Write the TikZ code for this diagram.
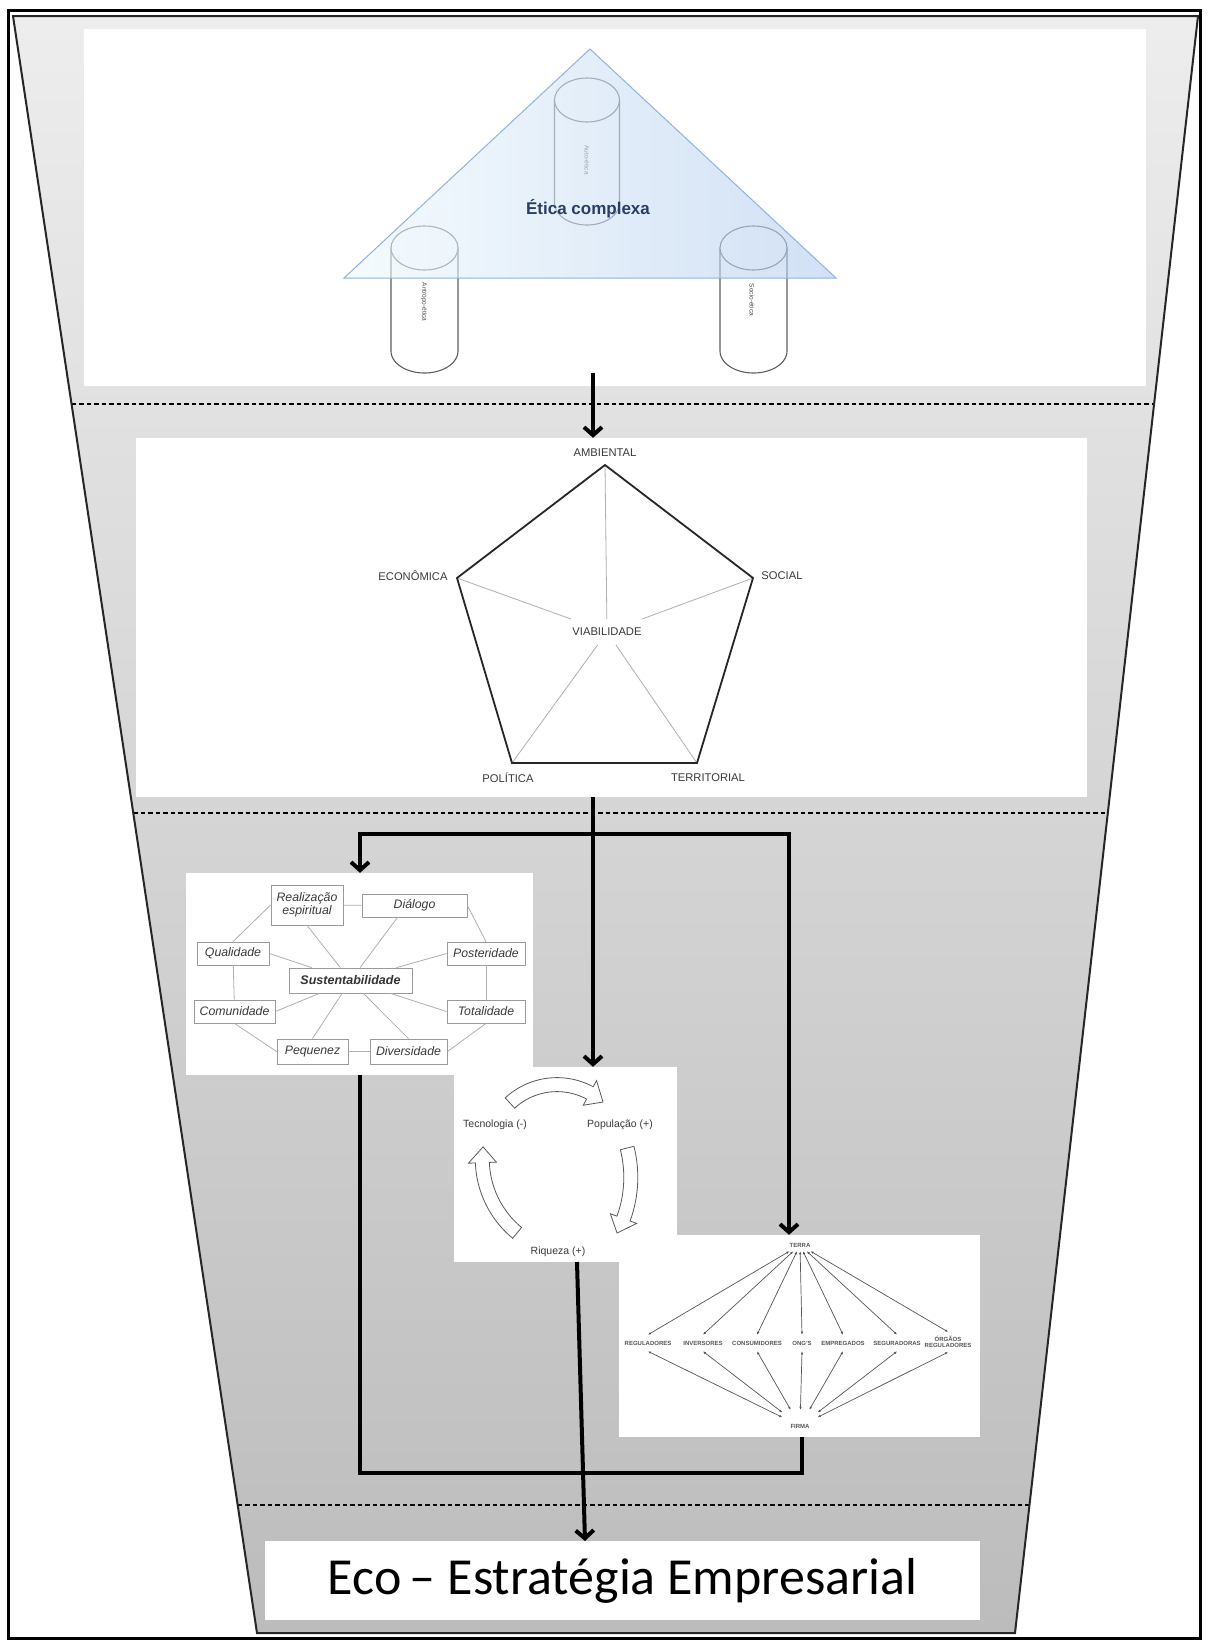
\documentclass[tikz,border=0pt]{standalone}
\usepackage{fontspec}
\setmainfont{Liberation Sans}
\newfontfamily\ecofont{Carlito}
\usetikzlibrary{arrows.meta,calc}

\definecolor{triedge}{HTML}{8FB3DE}
\definecolor{trileft}{HTML}{EEF9FD}
\definecolor{triright}{HTML}{B4CDEF}
\definecolor{navytext}{HTML}{2B3D66}
\definecolor{cylline}{HTML}{5E5E5E}
\definecolor{labelgray}{HTML}{3A3A3A}
\definecolor{spoke}{HTML}{AFAFAF}
\definecolor{boxline}{HTML}{9A9A9A}
\definecolor{netline}{HTML}{555555}
\definecolor{funtop}{HTML}{EDEDED}
\definecolor{funbot}{HTML}{BCBCBC}

% cylinder: centre x, top-ellipse y, bottom-ellipse y, half width, vertical radius
\newcommand{\drawcyl}[5]{%
  \filldraw[cylbody] (#1-#4,#2) -- (#1-#4,#3)
    -- plot[domain=180:360,samples=40] ({#1+#4*cos(\x)},{#3-#5*sin(\x)})
    -- (#1+#4,#2) -- cycle;
  \filldraw[cylbody] (#1,#2) ellipse[x radius=#4, y radius=#5];
}

% curved block arrow: centre x, centre y, radius, tail angle, head-base angle, tip angle
\newcommand{\cyclearrow}[6]{%
  \filldraw[cyclearr] plot[domain=#4:#5,samples=30] ({#1+(#3+7)*cos(\x)},{#2+(#3+7)*sin(\x)})
    -- ({#1+(#3+14)*cos(#5)},{#2+(#3+14)*sin(#5)})
    -- ({#1+#3*cos(#6)},{#2+#3*sin(#6)})
    -- ({#1+(#3-14)*cos(#5)},{#2+(#3-14)*sin(#5)})
    -- plot[domain=#5:#4,samples=30] ({#1+(#3-7)*cos(\x)},{#2+(#3-7)*sin(\x)})
    -- cycle;
}

\begin{document}
\begin{tikzpicture}[x=1pt,y=-1pt,
  whitebox/.style={fill=white, draw=none, inner sep=0pt},
  flow/.style={line width=4pt, black},
  flowtip/.style={arrows={-Straight Barb[length=8pt,width=18pt]}},
  divider/.style={black, line width=1.4pt, dash pattern=on 4.5pt off 3pt},
  cylbody/.style={draw=cylline, fill=white, line width=1.1pt},
  cyllabel/.style={font=\fontsize{6.5}{7}\selectfont, text=black!70, inner sep=0pt},
  ptlabel/.style={font=\fontsize{11.2}{12}\selectfont, text=labelgray, inner sep=1pt},
  sbox/.style={draw=boxline, fill=white, line width=0.8pt, inner sep=0pt, align=center,
    text=labelgray, font=\itshape\fontsize{12.3}{13}\selectfont},
  sline/.style={draw=spoke, line width=0.8pt},
  cyclearr/.style={draw=gray!70!black, fill=white, line width=0.8pt},
  cyctext/.style={font=\fontsize{10.5}{12}\selectfont, text=labelgray, inner sep=1pt},
  netlabel/.style={font=\bfseries\fontsize{6}{6.5}\selectfont, text=netline,
    inner xsep=1pt, inner ysep=6pt, align=center},
  netarr/.style={draw=netline, line width=0.7pt,
    arrows={Latex[length=3pt,width=2.5pt]-Latex[length=3pt,width=2.5pt]}},
]
\useasboundingbox (0,0) rectangle (1208,1644);
\fill[white] (0,0) rectangle (1208,1644);

% outer frame
\draw[line width=3pt] (8,10) rectangle (1200,1638);

% funnel
\coordinate (ftl) at (13,16);
\coordinate (ftr) at (1198,16);
\coordinate (fbr) at (1015,1633);
\coordinate (fbl) at (257,1633);
\shade[top color=funtop, bottom color=funbot] (ftl) -- (ftr) -- (fbr) -- (fbl) -- cycle;

% dashed dividers between the stages
\draw[divider] ($(ftl)!0.2400!(fbl)$) -- ($(ftr)!0.2400!(fbr)$);
\draw[divider] ($(ftl)!0.4929!(fbl)$) -- ($(ftr)!0.4929!(fbr)$);
\draw[divider] ($(ftl)!0.9208!(fbl)$) -- ($(ftr)!0.9208!(fbr)$);

\draw[line width=2pt, black!85] (ftl) -- (ftr) -- (fbr) -- (fbl) -- cycle;

% ---------- stage 1: complex ethics ----------
\node[whitebox, minimum width=1062pt, minimum height=357pt] (box1) at (615,207.5) {};

\drawcyl{587}{100}{203}{32.5}{22}
\drawcyl{424.5}{248}{351}{33.5}{22}
\drawcyl{753.5}{248}{351}{33.5}{22}
\node[cyllabel, rotate=-90] (lauto) at (587,160) {Auto-ética};
\node[cyllabel, rotate=-90] (lantr) at (424,302) {Antropo-ética};
\node[cyllabel, rotate=-90] (lsoci) at (752,300) {Socio-ética};

\coordinate (tA) at (590,49);
\coordinate (tL) at (344,278);
\coordinate (tR) at (836,278);
\shade[left color=trileft, right color=triright, fill opacity=0.6] (tA) -- (tR) -- (tL) -- cycle;
\draw[triedge, line width=1pt] (tA) -- (tR) -- (tL) -- cycle;
\node[font=\bfseries\fontsize{17}{20}\selectfont, text=navytext] (etica) at (588,209) {Ética complexa};

% ---------- stage 2: viability pentagon ----------
\node[whitebox, minimum width=951pt, minimum height=359pt] (box2) at (611.5,617.5) {};

\coordinate (pA) at (605,465);
\coordinate (pS) at (753,578);
\coordinate (pT) at (697,763);
\coordinate (pP) at (512,763);
\coordinate (pE) at (457,578);
\node[ptlabel, inner xsep=8pt, inner ysep=9pt] (viab) at (607,632) {VIABILIDADE};
\draw[sline] (pA) -- (viab);
\draw[sline] (pS) -- (viab);
\draw[sline] (pT) -- (viab);
\draw[sline] (pP) -- (viab);
\draw[sline] (pE) -- (viab);
\draw[line width=1.8pt, black!85] (pA) -- (pS) -- (pT) -- (pP) -- (pE) -- cycle;
\node[ptlabel] (lamb) at (605,453) {AMBIENTAL};
\node[ptlabel] (lsoc) at (782,576) {SOCIAL};
\node[ptlabel] (leco) at (413,576) {ECONÔMICA};
\node[ptlabel] (lpol) at (508,778) {POLÍTICA};
\node[ptlabel] (lter) at (708,778) {TERRITORIAL};

% ---------- stage 3a: sustainability web ----------
\node[whitebox, minimum width=347pt, minimum height=202pt] (sustbox) at (359.5,974) {};

\node[sbox, minimum width=72pt, minimum height=40pt] (real) at (307,905) {Realização\\espiritual};
\node[sbox, minimum width=105pt, minimum height=23pt] (dial) at (414.5,905.5) {Diálogo};
\node[sbox, minimum width=72pt, minimum height=23pt] (qual) at (233,953.5) {Qualidade};
\node[sbox, minimum width=78pt, minimum height=23pt] (post) at (486,953.5) {Posteridade};
\node[sbox, minimum width=81pt, minimum height=23pt] (comu) at (234.5,1011.5) {Comunidade};
\node[sbox, minimum width=78pt, minimum height=23pt] (tota) at (486,1011.5) {Totalidade};
\node[sbox, minimum width=71pt, minimum height=25pt] (pequ) at (312.5,1051.5) {Pequenez};
\node[sbox, minimum width=77pt, minimum height=25pt] (dive) at (408.5,1051.5) {Diversidade};
\node[sbox, minimum width=123pt, minimum height=25pt, font=\bfseries\itshape\fontsize{12.5}{13}\selectfont, text=black!80] (sust) at (350.5,980.5) {Sustentabilidade};

\draw[sline] (real) -- (dial);
\draw[sline] (real.west) -- (qual.north);
\draw[sline] (dial.east) -- (post.north);
\draw[sline] (qual) -- (comu);
\draw[sline] (post) -- (tota);
\draw[sline] (comu.south) -- (pequ.west);
\draw[sline] (dive.east) -- (tota.south);
\draw[sline] (pequ) -- (dive);
\draw[sline] (real.south) -- (sust);
\draw[sline] (sust) -- (dive.north);
\draw[sline] ([xshift=-17pt]dial.south) -- (sust);
\draw[sline] (sust) -- (pequ.north);
\draw[sline] (qual.east) -- (sust);
\draw[sline] (comu.east) -- (sust);
\draw[sline] (post.west) -- (sust);
\draw[sline] (tota.west) -- (sust);

% ---------- stage 3b: population, wealth, technology cycle ----------
\node[whitebox, minimum width=223pt, minimum height=195pt] (cyclebox) at (565.5,1164.5) {};
\node[cyctext] (tecn) at (495,1125) {Tecnologia (-)};
\node[cyctext] (popu) at (620,1125) {População (+)};
\node[cyctext] (riqu) at (558,1252) {Riqueza (+)};
\cyclearrow{557}{1154}{69.4}{-132.7}{-61.7}{-48.5}
\cyclearrow{511}{1177.4}{119.8}{-14.2}{20.1}{27.7}
\cyclearrow{578}{1159}{95.7}{129.5}{177.8}{187.3}

% ---------- stage 3c: stakeholders between earth and firm ----------
\node[whitebox, minimum width=361pt, minimum height=202pt] (netbox) at (799.5,1336) {};
\node[netlabel, inner xsep=7pt, inner ysep=4pt] (terra) at (800,1245) {TERRA};
\node[netlabel, inner xsep=8pt, inner ysep=14pt] (firma) at (800,1426) {FIRMA};
\node[netlabel] (reg) at (648,1343) {REGULADORES};
\node[netlabel] (inv) at (703,1343) {INVERSORES};
\node[netlabel] (cons) at (757,1343) {CONSUMIDORES};
\node[netlabel] (ong) at (802,1343) {ONG'S};
\node[netlabel] (empr) at (843,1343) {EMPREGADOS};
\node[netlabel] (segu) at (897,1343) {SEGURADORAS};
\node[netlabel, inner ysep=4pt] (orga) at (948,1342) {ÓRGÃOS\\REGULADORES};
\foreach \n in {reg,inv,cons,ong,empr,segu,orga}{
  \draw[netarr] (terra) -- (\n.north);
  \draw[netarr] (\n.south) -- (firma);
}

% ---------- stage 4: result ----------
\node[whitebox, minimum width=715pt, minimum height=79pt, font=\ecofont\fontsize{52}{60}\selectfont] (ecobox) at (622.5,1580.5) {Eco\,– Estratégia Empresarial};

% ---------- flow connectors ----------
\coordinate (f1) at (593,373);
\draw[flow, flowtip] (f1) -- (box2.north -| f1);

\coordinate (junc) at (593,834);
\coordinate (hl) at (360,834);
\coordinate (hr) at (789,834);
\draw[flow, flowtip] (box2.south -| junc) -- (cyclebox.north -| junc);
\draw[flow, flowtip] (junc) -| (sustbox.north -| hl);
\draw[flow, flowtip] (junc) -| (netbox.north -| hr);

\coordinate (bl) at (360,1473);
\coordinate (br) at (802,1473);
\draw[flow] (sustbox.south -| bl) -- (bl) -- (br) -- (netbox.south -| br);

\coordinate (m1) at (577,1262);
\coordinate (m2) at (585,1541);
\draw[flow, flowtip] (m1) -- (m2);
\end{tikzpicture}
\end{document}
